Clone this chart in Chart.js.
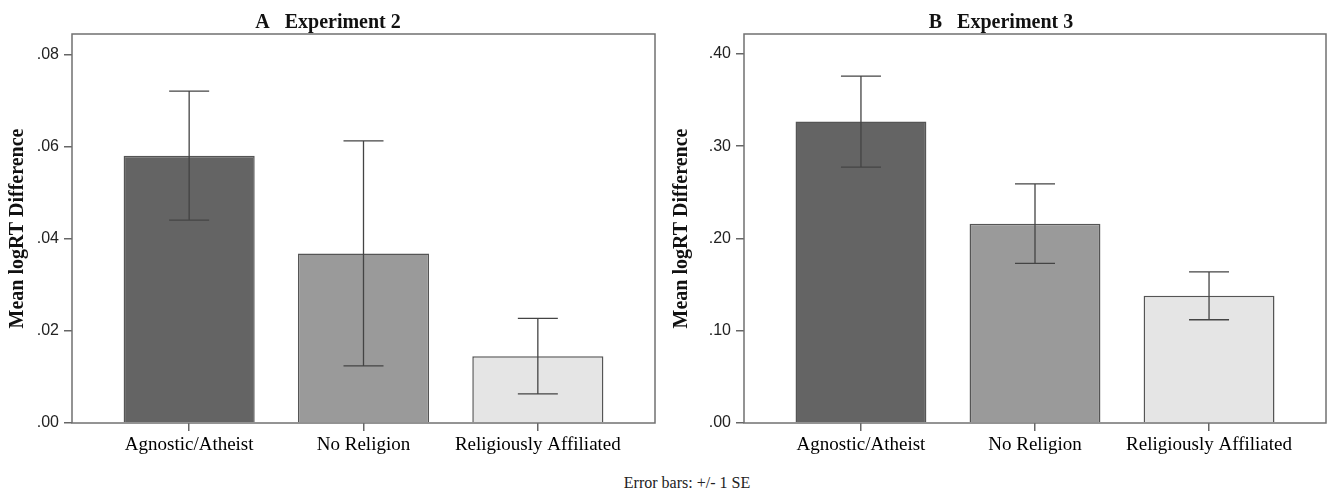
<!DOCTYPE html>
<html>
<head>
<meta charset="utf-8">
<script src="https://cdn.jsdelivr.net/npm/chart.js@4/dist/chart.umd.min.js"></script>
<style>
  body { margin: 0; background: #fff; width: 1328px; height: 490px; position: relative; overflow: hidden; }
  canvas { position: absolute; top: 0; }
  #chartA { left: 0; }
  #chartB { left: 664px; }
  #note { position: absolute; left: 587px; width: 200px; top: 475px; text-align: center;
          font: 16px "Liberation Serif", serif; color: #222; line-height: 16px; }
</style>
</head>
<body>
<canvas id="chartA" width="664" height="465"></canvas>
<canvas id="chartB" width="664" height="465"></canvas>
<div id="note">Error bars: +/- 1 SE</div>
<script>
// dados
const categories = ['Agnostic/Atheist', 'No Religion', 'Religiously Affiliated'];
const meansExp2 = [0.058, 0.0368, 0.0145];
const seExp2 = [0.014, 0.0244, 0.0082];
const meansExp3 = [0.3266, 0.216, 0.1378];
const seExp3 = [0.0493, 0.043, 0.0259];
const ticksExp2 = [0, 0.02, 0.04, 0.06, 0.08];
const ticksExp3 = [0, 0.10, 0.20, 0.30, 0.40];
const barColors = ['#646464', '#9a9a9a', '#e5e5e5'];

Chart.defaults.animation = false;

// moldura + título + barras de erro
const extras = {
  id: 'extras',
  afterDraw(chart, args, opts) {
    const { ctx, chartArea: a, scales } = chart;
    const ds = chart.data.datasets[0];
    const meta = chart.getDatasetMeta(0);
    ctx.save();
    // barras de erro
    ctx.strokeStyle = '#444';
    ctx.lineWidth = 1.3;
    meta.data.forEach((bar, i) => {
      const m = ds.data[i].y, se = ds.se[i];
      const yTop = scales.y.getPixelForValue(m + se);
      const yBot = scales.y.getPixelForValue(m - se);
      ctx.beginPath();
      ctx.moveTo(bar.x, yTop); ctx.lineTo(bar.x, yBot);
      ctx.moveTo(bar.x - 20, yTop); ctx.lineTo(bar.x + 20, yTop);
      ctx.moveTo(bar.x - 20, yBot); ctx.lineTo(bar.x + 20, yBot);
      ctx.stroke();
    });
    // moldura
    ctx.strokeStyle = '#707070';
    ctx.lineWidth = 1.5;
    ctx.strokeRect(a.left, a.top, a.right - a.left, a.bottom - a.top);
    // título
    ctx.fillStyle = '#111';
    ctx.font = 'bold 20px "Liberation Serif", serif';
    ctx.textAlign = 'center';
    ctx.textBaseline = 'alphabetic';
    ctx.fillText(opts.text, chart.width / 2 + opts.dx, 28);
    ctx.restore();
  }
};

function makeChart(id, title, dx, means, se, yTicks, yMax, yWidth, padRight) {
  const fmt = (v) => v.toFixed(2).replace(/^0/, '');
  return new Chart(document.getElementById(id), {
    type: 'bar',
    data: {
      datasets: [{
        data: means.map((m, i) => ({ x: i, y: m })),
        se: se,
        backgroundColor: barColors,
        borderColor: '#555',
        borderWidth: 1.5,
        borderSkipped: 'start',
        barPercentage: 0.752,
        categoryPercentage: 1
      }]
    },
    options: {
      responsive: false,
      layout: { padding: { top: 34, right: padRight, left: 0, bottom: 0 } },
      plugins: {
        legend: { display: false },
        tooltip: { enabled: false },
        extras: { text: title, dx: dx }
      },
      scales: {
        x: {
          type: 'linear',
          offset: false,
          min: -0.672,
          max: 2.672,
          afterBuildTicks: (s) => { s.ticks = categories.map((c, i) => ({ value: i })); },
          afterFit: (s) => { s.height = 465 - 423; },
          border: { display: false },
          grid: { offset: false, drawOnChartArea: false, drawTicks: true, tickLength: 8, color: '#666', lineWidth: 1.5 },
          ticks: {
            callback: (v) => categories[v] ?? '',
            autoSkip: false, maxRotation: 0, padding: 3,
            color: '#000', font: { family: '"Liberation Serif", serif', size: 19 }
          }
        },
        y: {
          min: 0,
          max: yMax,
          afterBuildTicks: (s) => { s.ticks = yTicks.map(v => ({ value: v })); },
          afterFit: (s) => { s.width = yWidth; },
          border: { display: false },
          grid: { drawOnChartArea: false, drawTicks: true, tickLength: 8, color: '#666', lineWidth: 1.5 },
          ticks: {
            callback: (v) => fmt(v), padding: 5,
            color: '#222', font: { family: '"Liberation Sans", sans-serif', size: 16 }
          },
          title: {
            display: true, text: 'Mean logRT Difference', color: '#111',
            padding: { top: 6, bottom: 0 },
            font: { family: '"Liberation Serif", serif', size: 20, weight: 'bold' }
          }
        }
      }
    },
    plugins: [extras]
  });
}

makeChart('chartA', 'A   Experiment 2', -4, meansExp2, seExp2, ticksExp2, 0.0844, 72, 9);
makeChart('chartB', 'B   Experiment 3', 5, meansExp3, seExp3, ticksExp3, 0.4215, 80, 2);
</script>
</body>
</html>
